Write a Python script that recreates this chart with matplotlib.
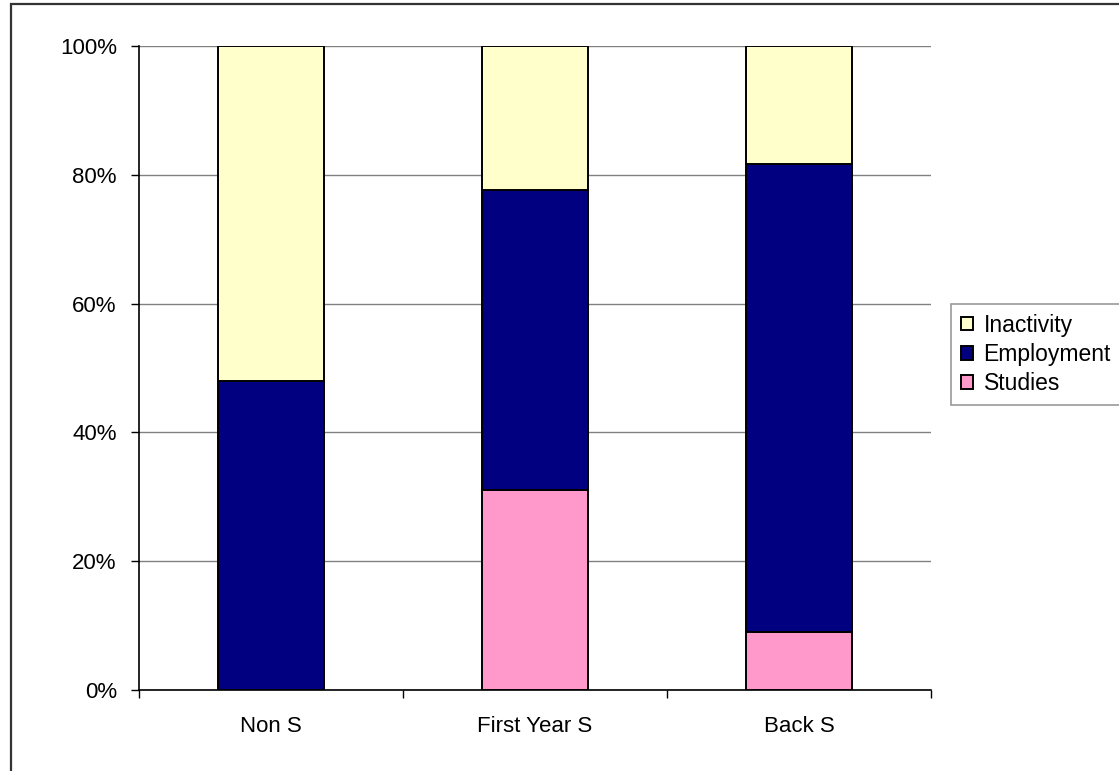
import matplotlib
matplotlib.use("Agg")
import matplotlib.pyplot as plt
from matplotlib.patches import Rectangle
import numpy as np

# Share of each group by situation (percent)
categories = ["Non S", "First Year S", "Back S"]
studies = [0.0, 31.0, 9.0]
employment = [48.0, 46.6, 72.7]
inactivity = [52.0, 22.4, 18.3]

series_names = ["Studies", "Employment", "Inactivity"]
series_colors = ["#FF99CC", "#000080", "#FFFFCC"]
y_ticks = [0, 20, 40, 60, 80, 100]
y_tick_labels = ["0%", "20%", "40%", "60%", "80%", "100%"]

plt.rcParams["font.family"] = ["Liberation Sans", "DejaVu Sans"]
FS = 16

W, H = 1119, 771
fig = plt.figure(figsize=(W / 100, H / 100), dpi=100)
fig.patch.set_facecolor("white")

# Outer chart frame (runs off the right and bottom edges)
fig.patches.append(Rectangle((11 / W, 1 - 1000 / H), 2000 / W, (1000 - 4) / H,
                             transform=fig.transFigure, fill=False,
                             edgecolor="#333333", linewidth=1.6, clip_on=False))

ax = fig.add_axes([139 / W, 1 - 690 / H, (931 - 139) / W, (690 - 46) / H])

x = np.arange(len(categories))
width = 0.405
bottom = np.zeros(len(categories))
bars = []
for name, vals, col in zip(series_names, [studies, employment, inactivity], series_colors):
    b = ax.bar(x, vals, width, bottom=bottom, color=col, edgecolor="black",
               linewidth=1.4, label=name, zorder=3)
    bars.append(b)
    bottom += np.array(vals)

ax.set_xlim(-0.5, len(categories) - 0.5)
ax.set_ylim(0, 100)

ax.set_yticks(y_ticks)
ax.set_yticklabels(y_tick_labels, fontsize=FS)
ax.yaxis.grid(True, color="#808080", linewidth=1.0, zorder=0)
ax.set_axisbelow(True)

ax.set_xticks(x)
ax.set_xticklabels(categories, fontsize=FS)
ax.set_xticks(np.arange(-0.5, len(categories), 1.0), minor=True)
ax.tick_params(axis="x", which="major", length=0, pad=19)
ax.tick_params(axis="x", which="minor", length=6, width=1.0, color="black")
ax.tick_params(axis="y", which="major", length=6, width=1.0, pad=10, color="black")

for side in ["top", "right"]:
    ax.spines[side].set_visible(False)
for side in ["left", "bottom"]:
    ax.spines[side].set_color("black")
    ax.spines[side].set_linewidth(1.2)

handles = [bars[2], bars[1], bars[0]]
labels = ["Inactivity", "Employment", "Studies"]
leg = fig.legend(handles, labels, loc="upper left",
                 bbox_to_anchor=(951 / W, 1 - 304 / H),
                 bbox_transform=fig.transFigure, fontsize=16.5,
                 frameon=True, fancybox=False, borderaxespad=0,
                 handlelength=0.55, handleheight=0.55, handletextpad=0.45,
                 labelspacing=0.27, borderpad=0.42)
leg.get_frame().set_edgecolor("#808080")
leg.get_frame().set_linewidth(1.2)

fig.savefig("out.png", dpi=100, facecolor="white")
